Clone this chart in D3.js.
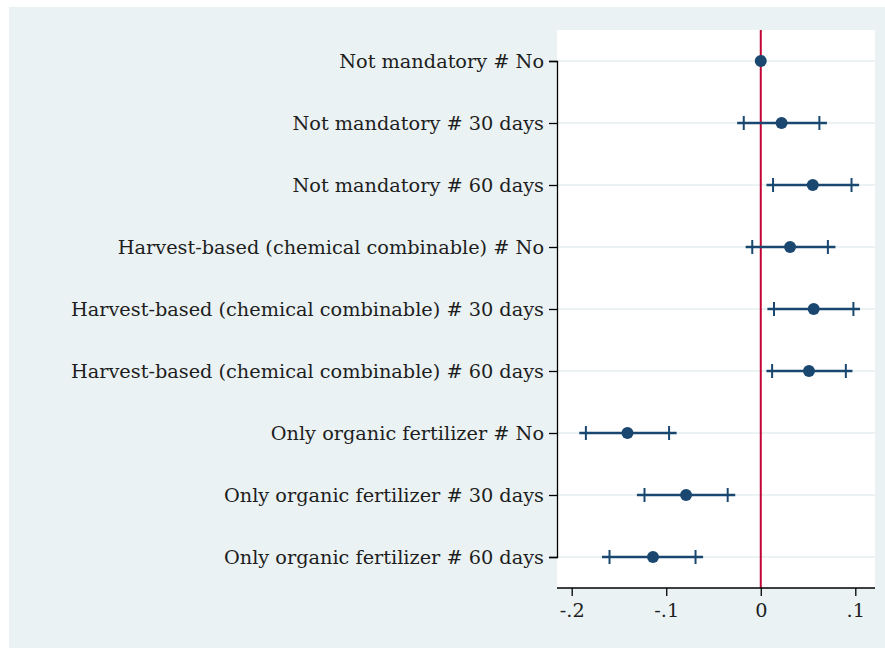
<!DOCTYPE html>
<html>
<head>
<meta charset="utf-8">
<script src="https://cdn.jsdelivr.net/npm/d3@7"></script>
<style>
  body { margin: 0; background: #fff; }
  text { font-family: "DejaVu Serif", "Liberation Serif", serif; fill: #1e1e1e; }
</style>
</head>
<body>
<svg id="chart" width="885" height="648"></svg>
<script>
// coefficient labels, top to bottom
const labels = [
  "Not mandatory # No",
  "Not mandatory # 30 days",
  "Not mandatory # 60 days",
  "Harvest-based (chemical combinable) # No",
  "Harvest-based (chemical combinable) # 30 days",
  "Harvest-based (chemical combinable) # 60 days",
  "Only organic fertilizer # No",
  "Only organic fertilizer # 30 days",
  "Only organic fertilizer # 60 days"
];
const coef = [0, 0.022, 0.055, 0.031, 0.056, 0.051, -0.141, -0.079, -0.114];
// 95% interval (line ends)
const lo95 = [null, -0.025, 0.006, -0.016, 0.007, 0.006, -0.192, -0.131, -0.168];
const hi95 = [null, 0.070, 0.104, 0.079, 0.105, 0.097, -0.089, -0.027, -0.061];
// 90% interval (tick marks)
const lo90 = [null, -0.018, 0.013, -0.009, 0.014, 0.012, -0.185, -0.123, -0.160];
const hi90 = [null, 0.062, 0.096, 0.071, 0.098, 0.090, -0.097, -0.035, -0.069];
const xTicks = [-0.2, -0.1, 0, 0.1];
const xTickLabels = ["-.2", "-.1", "0", ".1"];

const rows = labels.map((l, i) => ({
  label: l, b: coef[i], lo95: lo95[i], hi95: hi95[i], lo90: lo90[i], hi90: hi90[i]
}));

const svg = d3.select("#chart");
const navy = "#1a476f";

// outer panel
svg.append("rect").attr("x", 9).attr("y", 7).attr("width", 876).attr("height", 641)
  .attr("fill", "#eaf2f3");

const margin = { left: 557, right: 10, top: 30, bottom: 60 };
const W = 885, H = 648;

// plot region
svg.append("rect")
  .attr("x", margin.left).attr("y", margin.top)
  .attr("width", W - margin.right - margin.left)
  .attr("height", H - margin.bottom - margin.top)
  .attr("fill", "#fff");

const x = d3.scaleLinear()
  .domain([-0.2, 0.1])
  .range([571.7, 855.3]);

const y = d3.scalePoint()
  .domain(labels)
  .range([61, 557]);

const g = svg.append("g");

// horizontal grid
g.selectAll(".grid")
  .data(labels)
  .enter()
  .append("line")
  .attr("class", "grid")
  .attr("x1", margin.left).attr("x2", W - margin.right)
  .attr("y1", (d) => y(d)).attr("y2", (d) => y(d))
  .attr("stroke", "#eaf2f3").attr("stroke-width", 2);

// zero line
g.append("line")
  .attr("x1", x(0)).attr("x2", x(0))
  .attr("y1", margin.top).attr("y2", H - margin.bottom)
  .attr("stroke", "#c10534").attr("stroke-width", 2);

// y axis
const yAxis = g.append("g")
  .attr("transform", `translate(${margin.left},0)`)
  .call(d3.axisLeft(y).tickSize(8).tickPadding(5));
yAxis.attr("font-family", null);
yAxis.select(".domain").attr("stroke", "#000").attr("stroke-width", 1.3);
yAxis.selectAll(".tick line").attr("stroke", "#000").attr("stroke-width", 1.3);
yAxis.selectAll(".tick text").style("font-size", "19.3px").attr("dy", "0.36em");

// x axis
const xAxis = g.append("g")
  .attr("transform", `translate(0,${H - margin.bottom})`)
  .call(d3.axisBottom(x).tickValues(xTicks).tickSize(8).tickPadding(5)
    .tickFormat((d, i) => xTickLabels[i]));
xAxis.attr("font-family", null);
xAxis.select(".domain").attr("stroke", "#000").attr("stroke-width", 1.3)
  .attr("d", `M${margin.left},0H${W - margin.right}`);
xAxis.selectAll(".tick line").attr("stroke", "#000").attr("stroke-width", 1.3);
xAxis.selectAll(".tick text").style("font-size", "19.3px").attr("dy", "0.85em");

const ci = rows.filter((d) => d.lo95 !== null);

// 95% lines
g.selectAll(".ci")
  .data(ci)
  .enter()
  .append("line")
  .attr("x1", (d) => x(d.lo95)).attr("x2", (d) => x(d.hi95))
  .attr("y1", (d) => y(d.label)).attr("y2", (d) => y(d.label))
  .attr("stroke", navy).attr("stroke-width", 2.6);

// 90% tick marks
const marks = [];
ci.forEach((d) => { marks.push({ label: d.label, v: d.lo90 }); marks.push({ label: d.label, v: d.hi90 }); });
g.selectAll(".cap")
  .data(marks)
  .enter()
  .append("line")
  .attr("x1", (d) => x(d.v)).attr("x2", (d) => x(d.v))
  .attr("y1", (d) => y(d.label) - 7).attr("y2", (d) => y(d.label) + 7)
  .attr("stroke", navy).attr("stroke-width", 2);

// points
g.selectAll(".pt")
  .data(rows)
  .enter()
  .append("circle")
  .attr("cx", (d) => x(d.b)).attr("cy", (d) => y(d.label))
  .attr("r", 6)
  .attr("fill", navy);
</script>
</body>
</html>
